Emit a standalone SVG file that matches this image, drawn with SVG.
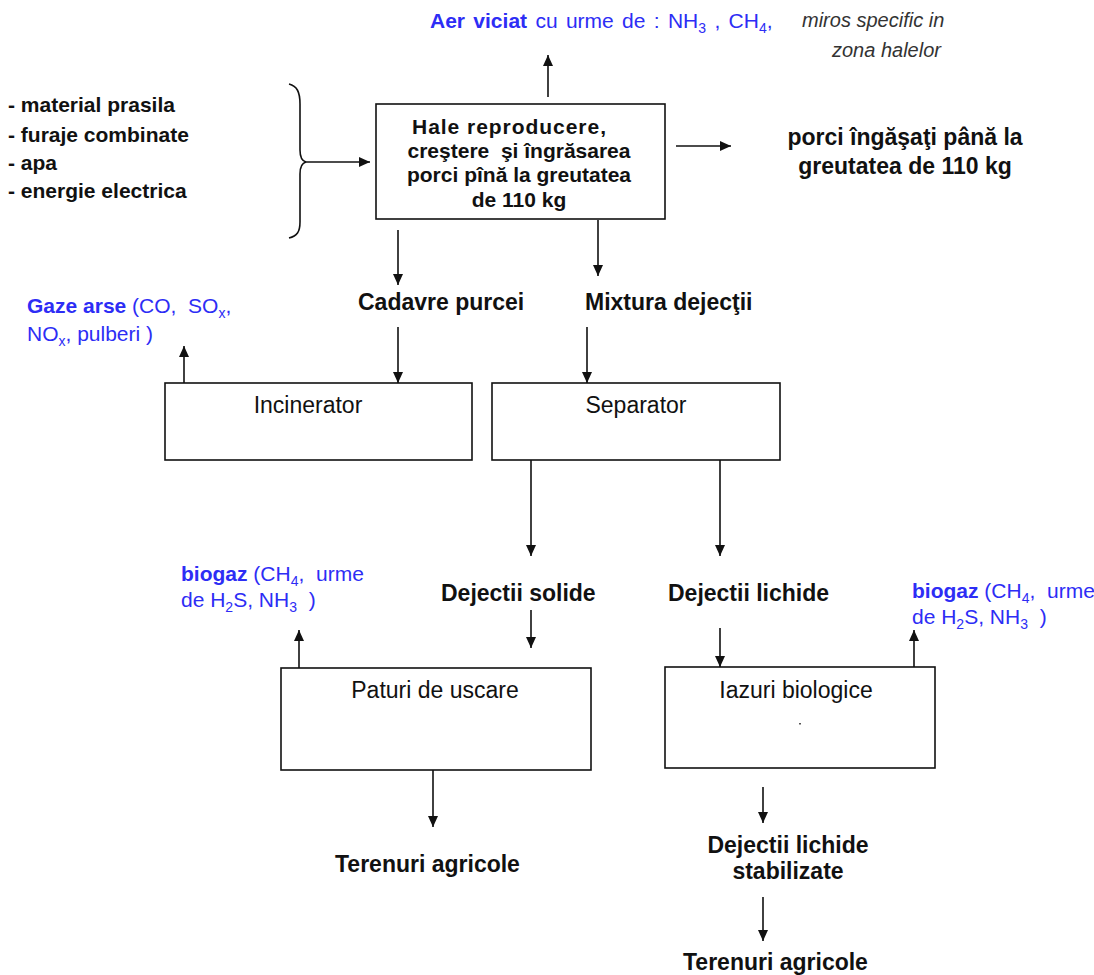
<svg xmlns="http://www.w3.org/2000/svg" width="1094" height="975" viewBox="0 0 1094 975">
  <style>
    text { font-family: "Liberation Sans", Arial, sans-serif; fill: #111; white-space: pre; }
    .b { font-weight: bold; }
    .lbl { font-size: 23px; font-weight: bold; }
    .box-lbl { font-size: 23px; }
    .in { font-size: 21px; font-weight: bold; }
    .main { font-size: 21px; font-weight: bold; text-anchor: middle; }
    .out { font-size: 23px; font-weight: bold; text-anchor: middle; }
    .gas { font-size: 21px; fill: #2d2df5; }
    .gas tspan { fill: #2d2df5; }
    .note { font-size: 20px; font-style: italic; fill: #333; }
    .box { fill: #fff; stroke: #111; stroke-width: 1.6; }
    .conn line, .conn path { stroke: #111; stroke-width: 1.6; fill: none; }
    .sub { font-size: 14px; }
  </style>
  <defs>
    <marker id="arr" markerUnits="userSpaceOnUse" markerWidth="12" markerHeight="12" viewBox="0 0 12 12" refX="11" refY="6" orient="auto">
      <path d="M0,1 L11,6 L0,11 Z" fill="#111"/>
    </marker>
  </defs>

  <rect width="1094" height="975" fill="#fff"/>

  <!-- inputs -->
  <g id="inputs">
    <text class="in" x="8" y="112">- material prasila</text>
    <text class="in" x="8" y="142">- furaje combinate</text>
    <text class="in" x="8" y="170">- apa</text>
    <text class="in" x="8" y="198">- energie electrica</text>
  </g>

  <!-- exhaust air above the halls -->
  <g id="aer-viciat">
    <text class="gas" x="430" y="28" word-spacing="2.5"><tspan class="b">Aer viciat</tspan> cu urme de : NH<tspan class="sub" dy="5">3</tspan><tspan dy="-5"> , CH</tspan><tspan class="sub" dy="5">4</tspan><tspan dy="-5">,</tspan></text>
    <text class="note" x="802" y="27">miros specific in</text>
    <text class="note" x="832" y="57">zona halelor</text>
  </g>

  <!-- main unit -->
  <g id="hale">
    <rect class="box" x="376" y="104" width="289" height="115"/>
    <text class="b" font-size="21" x="412" y="134" textLength="194" lengthAdjust="spacing">Hale reproducere,</text>
    <text class="main" x="519" y="158">creştere  şi îngrăsarea</text>
    <text class="main" x="519" y="182">porci pînă la greutatea</text>
    <text class="main" x="519" y="207">de 110 kg</text>
  </g>

  <g id="produs">
    <text class="out" x="905" y="145">porci îngăşaţi până la</text>
    <text class="out" x="905" y="174">greutatea de 110 kg</text>
  </g>

  <g id="cadavre">
    <text class="lbl" x="358" y="310">Cadavre purcei</text>
  </g>
  <g id="mixtura">
    <text class="lbl" x="585" y="310">Mixtura dejecţii</text>
  </g>

  <g id="gaze-arse">
    <text class="gas" x="27" y="313"><tspan class="b">Gaze arse</tspan> (CO,  SO<tspan class="sub" dy="5">x</tspan><tspan dy="-5">,</tspan></text>
    <text class="gas" x="27" y="341">NO<tspan class="sub" dy="5">x</tspan><tspan dy="-5">, pulberi )</tspan></text>
  </g>

  <g id="incinerator">
    <rect class="box" x="165" y="383" width="307" height="77"/>
    <text class="box-lbl" x="308" y="413" text-anchor="middle">Incinerator</text>
  </g>

  <g id="separator">
    <rect class="box" x="492" y="383" width="288" height="77"/>
    <text class="box-lbl" x="636" y="413" text-anchor="middle">Separator</text>
  </g>

  <g id="dejectii-solide">
    <text class="lbl" x="441" y="601">Dejectii solide</text>
  </g>
  <g id="dejectii-lichide">
    <text class="lbl" x="668" y="601">Dejectii lichide</text>
  </g>

  <g id="biogaz-paturi">
    <text class="gas" x="181" y="581"><tspan class="b">biogaz</tspan> (CH<tspan class="sub" dy="5">4</tspan><tspan dy="-5">,  urme</tspan></text>
    <text class="gas" x="181" y="607">de H<tspan class="sub" dy="5">2</tspan><tspan dy="-5">S, NH</tspan><tspan class="sub" dy="5">3</tspan><tspan dy="-5">  )</tspan></text>
  </g>

  <g id="biogaz-iazuri">
    <text class="gas" x="912" y="598"><tspan class="b">biogaz</tspan> (CH<tspan class="sub" dy="5">4</tspan><tspan dy="-5">,  urme</tspan></text>
    <text class="gas" x="912" y="624">de H<tspan class="sub" dy="5">2</tspan><tspan dy="-5">S, NH</tspan><tspan class="sub" dy="5">3</tspan><tspan dy="-5">  )</tspan></text>
  </g>

  <g id="paturi">
    <rect class="box" x="281" y="668" width="310" height="102"/>
    <text class="box-lbl" x="435" y="698" text-anchor="middle">Paturi de uscare</text>
  </g>

  <g id="iazuri">
    <rect class="box" x="665" y="667" width="270" height="101"/>
    <text class="box-lbl" x="796" y="698" text-anchor="middle">Iazuri biologice</text>
    <rect x="799" y="723" width="2" height="1.5" fill="#555"/>
  </g>

  <g id="terenuri-1">
    <text class="lbl" x="335" y="872">Terenuri agricole</text>
  </g>

  <g id="stabilizate">
    <text class="out" x="788" y="853">Dejectii lichide</text>
    <text class="out" x="788" y="879">stabilizate</text>
  </g>

  <g id="terenuri-2">
    <text class="lbl" x="683" y="970">Terenuri agricole</text>
  </g>

  <!-- connectors -->
  <g class="conn">
    <path d="M289,84 C297,86 300,92 300,104 L300,150 C300,158 302,161 306,162 C302,163 300,166 300,174 L300,222 C300,232 297,236 289,238"/>
    <line x1="306" y1="162" x2="370" y2="162" marker-end="url(#arr)"/>
    <line x1="548" y1="97" x2="548" y2="55" marker-end="url(#arr)"/>
    <line x1="676" y1="146" x2="731" y2="146" marker-end="url(#arr)"/>
    <line x1="398" y1="230" x2="398" y2="285" marker-end="url(#arr)"/>
    <line x1="598" y1="220" x2="598" y2="276" marker-end="url(#arr)"/>
    <line x1="398" y1="327" x2="398" y2="383" marker-end="url(#arr)"/>
    <line x1="587" y1="327" x2="587" y2="383" marker-end="url(#arr)"/>
    <line x1="184" y1="383" x2="184" y2="346" marker-end="url(#arr)"/>
    <line x1="531" y1="460" x2="531" y2="556" marker-end="url(#arr)"/>
    <line x1="720" y1="460" x2="720" y2="556" marker-end="url(#arr)"/>
    <line x1="531" y1="610" x2="531" y2="648" marker-end="url(#arr)"/>
    <line x1="720" y1="628" x2="720" y2="667" marker-end="url(#arr)"/>
    <line x1="299" y1="668" x2="299" y2="630" marker-end="url(#arr)"/>
    <line x1="914" y1="667" x2="914" y2="630" marker-end="url(#arr)"/>
    <line x1="433" y1="770" x2="433" y2="827" marker-end="url(#arr)"/>
    <line x1="763" y1="787" x2="763" y2="823" marker-end="url(#arr)"/>
    <line x1="763" y1="897" x2="763" y2="941" marker-end="url(#arr)"/>
  </g>
</svg>
